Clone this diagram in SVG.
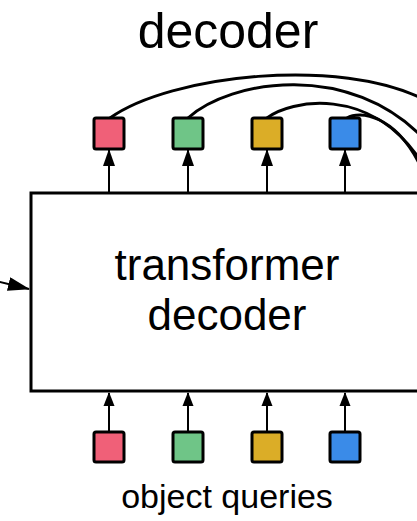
<svg xmlns="http://www.w3.org/2000/svg" width="417" height="521" viewBox="0 0 417 521">
<style>
.sq{stroke:#000;stroke-width:3}
.ln{stroke:#000;stroke-width:2;fill:none}
.cv{stroke:#000;stroke-width:3;fill:none}
.t{font-family:"Liberation Sans",Arial,sans-serif;fill:#000;text-anchor:middle}
</style>
<defs>
<marker id="ah" viewBox="0 0 14 12" refX="13" refY="6" markerWidth="14" markerHeight="12" markerUnits="userSpaceOnUse" orient="auto">
<path d="M0,0.5 L14,6 L0,11.5 Z" fill="#000"/>
</marker>
<marker id="ahs" viewBox="0 0 17 12" refX="16" refY="6" markerWidth="17" markerHeight="12" markerUnits="userSpaceOnUse" orient="auto">
<path d="M0,0 L17,6 L0,12 Z" fill="#000"/>
</marker>
<marker id="ahl" viewBox="0 0 22 14" refX="21" refY="7" markerWidth="22" markerHeight="14" markerUnits="userSpaceOnUse" orient="auto">
<path d="M0,0 L22,7 L0,14 Z" fill="#000"/>
</marker>
</defs>
<rect width="417" height="521" fill="#fff"/>
<text class="t" x="228" y="48" font-size="50">decoder</text>
<g id="box">
<rect x="31" y="193" width="400" height="198" fill="#fff" stroke="#000" stroke-width="3"/>
<text class="t" x="227" y="280" font-size="44">transformer</text>
<text class="t" x="227" y="330" font-size="44">decoder</text>
</g>
<g id="connectors">
<line class="ln" x1="109" y1="193" x2="109" y2="150" marker-end="url(#ahs)"/>
<line class="ln" x1="188" y1="193" x2="188" y2="150" marker-end="url(#ahs)"/>
<line class="ln" x1="267" y1="193" x2="267" y2="150" marker-end="url(#ahs)"/>
<line class="ln" x1="345" y1="193" x2="345" y2="150" marker-end="url(#ahs)"/>
<line class="ln" x1="109" y1="432" x2="109" y2="393" marker-end="url(#ah)"/>
<line class="ln" x1="188" y1="432" x2="188" y2="393" marker-end="url(#ah)"/>
<line class="ln" x1="267" y1="432" x2="267" y2="393" marker-end="url(#ah)"/>
<line class="ln" x1="345" y1="432" x2="345" y2="393" marker-end="url(#ah)"/>
<line class="ln" x1="-4" y1="281" x2="29" y2="289" stroke-width="2.5" marker-end="url(#ahl)"/>
<path class="cv" d="M110,118 C170,75 340,56 425,100"/>
<path class="cv" d="M188,118 C230,80 350,60 425,140"/>
<path class="cv" d="M267,118 C290,100 370,85 420,160"/>
<path class="cv" d="M347,118 C360,110 395,115 420,165"/>
</g>
<g id="out1"><rect class="sq" x="94" y="118" width="30" height="31" rx="2" fill="#F06078"/></g>
<g id="out2"><rect class="sq" x="173" y="118" width="30" height="31" rx="2" fill="#6FC587"/></g>
<g id="out3"><rect class="sq" x="252" y="118" width="30" height="31" rx="2" fill="#DBAD27"/></g>
<g id="out4"><rect class="sq" x="330" y="118" width="30" height="31" rx="2" fill="#3A8BE8"/></g>
<g id="q1"><rect class="sq" x="94" y="432" width="30" height="30" rx="2" fill="#F06078"/></g>
<g id="q2"><rect class="sq" x="173" y="432" width="30" height="30" rx="2" fill="#6FC587"/></g>
<g id="q3"><rect class="sq" x="252" y="432" width="30" height="30" rx="2" fill="#DBAD27"/></g>
<g id="q4"><rect class="sq" x="330" y="432" width="30" height="30" rx="2" fill="#3A8BE8"/></g>
<text class="t" x="227" y="508" font-size="34">object queries</text>
</svg>
